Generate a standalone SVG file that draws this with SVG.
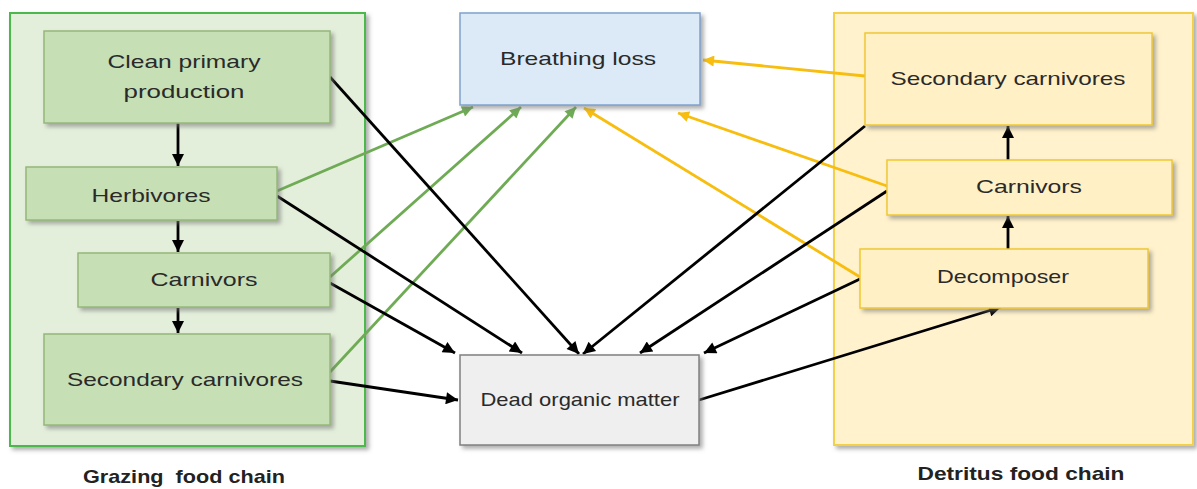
<svg xmlns="http://www.w3.org/2000/svg" width="1197" height="489" viewBox="0 0 1197 489">
<style>
.t{font-family:"Liberation Sans",Arial,sans-serif;font-size:19px;fill:#2a2a2a}
.lb{font-family:"Liberation Sans",Arial,sans-serif;font-size:19px;font-weight:bold;fill:#222}
.gn{fill:#c7dfb5;stroke:#95b87a;stroke-width:1.5}
.yn{fill:#fff0c6;stroke:#f0c832;stroke-width:1.5}
.k{stroke:#000;stroke-width:2.8;fill:none}
.g{stroke:#6fab55;stroke-width:2.8;fill:none}
.y{stroke:#f7bd0f;stroke-width:2.8;fill:none}
</style>
<defs>
<filter id="sh" x="-10%" y="-10%" width="130%" height="140%">
<feDropShadow dx="3" dy="3" stdDeviation="2" flood-color="#777" flood-opacity="0.6"/>
</filter>
<marker id="ak" viewBox="0 0 10 10" refX="10" refY="5" markerWidth="15" markerHeight="12" markerUnits="userSpaceOnUse" orient="auto"><path d="M0,0L10,5L0,10z" fill="#000"/></marker>
<marker id="ag" viewBox="0 0 10 10" refX="10" refY="5" markerWidth="14" markerHeight="11" markerUnits="userSpaceOnUse" orient="auto"><path d="M0,0L10,5L0,10z" fill="#6fab55"/></marker>
<marker id="ay" viewBox="0 0 10 10" refX="10" refY="5" markerWidth="14" markerHeight="11" markerUnits="userSpaceOnUse" orient="auto"><path d="M0,0L10,5L0,10z" fill="#f7bd0f"/></marker>
</defs>

<g id="grazing-container">
<rect x="10" y="13" width="355" height="433" fill="#e4efdb" stroke="#4cb84c" stroke-width="2" filter="url(#sh)"/>
<text class="lb" x="184" y="483" text-anchor="middle" textLength="202" lengthAdjust="spacingAndGlyphs" xml:space="preserve">Grazing  food chain</text>
</g>
<g id="detritus-container">
<rect x="834" y="13" width="359" height="432" fill="#fff2cc" stroke="#f2d04c" stroke-width="2" filter="url(#sh)"/>
<text class="lb" x="1021" y="480" text-anchor="middle" textLength="207" lengthAdjust="spacingAndGlyphs">Detritus food chain</text>
</g>

<g id="connectors">
<line class="k" x1="178" y1="123" x2="178" y2="166" marker-end="url(#ak)"/>
<line class="k" x1="178" y1="221" x2="178" y2="252" marker-end="url(#ak)"/>
<line class="k" x1="178" y1="308" x2="178" y2="333" marker-end="url(#ak)"/>
<line class="k" x1="1008" y1="160" x2="1008" y2="126" marker-end="url(#ak)"/>
<line class="k" x1="1008" y1="249" x2="1008" y2="216" marker-end="url(#ak)"/>
<line class="g" x1="277" y1="191" x2="473" y2="107" marker-end="url(#ag)"/>
<line class="g" x1="330" y1="277" x2="521" y2="107" marker-end="url(#ag)"/>
<line class="g" x1="330" y1="372" x2="576" y2="107" marker-end="url(#ag)"/>
<line class="y" x1="865" y1="76" x2="703" y2="60" marker-end="url(#ay)"/>
<line class="y" x1="887" y1="186" x2="678" y2="113" marker-end="url(#ay)"/>
<line class="y" x1="860" y1="277" x2="584" y2="108" marker-end="url(#ay)"/>
<line class="k" x1="330" y1="77" x2="579" y2="354" marker-end="url(#ak)"/>
<line class="k" x1="277" y1="196" x2="522" y2="353" marker-end="url(#ak)"/>
<line class="k" x1="330" y1="283" x2="455" y2="353" marker-end="url(#ak)"/>
<line class="k" x1="330" y1="381" x2="458" y2="400" marker-end="url(#ak)"/>
<line class="k" x1="865" y1="126" x2="583" y2="354" marker-end="url(#ak)"/>
<line class="k" x1="887" y1="191" x2="640" y2="353" marker-end="url(#ak)"/>
<line class="k" x1="860" y1="279" x2="704" y2="353" marker-end="url(#ak)"/>
<line class="k" x1="699" y1="400" x2="1001" y2="307" marker-end="url(#ak)"/>
</g>

<g id="clean-primary-production">
<rect class="gn" x="44" y="31" width="286" height="92" filter="url(#sh)"/>
<text class="t" x="184" y="68" text-anchor="middle" textLength="153" lengthAdjust="spacingAndGlyphs">Clean primary</text>
<text class="t" x="184" y="98" text-anchor="middle" textLength="121" lengthAdjust="spacingAndGlyphs">production</text>
</g>
<g id="herbivores">
<rect class="gn" x="26" y="167" width="251" height="53" filter="url(#sh)"/>
<text class="t" x="151" y="202" text-anchor="middle" textLength="119" lengthAdjust="spacingAndGlyphs">Herbivores</text>
</g>
<g id="carnivors-grazing">
<rect class="gn" x="78" y="253" width="252" height="54" filter="url(#sh)"/>
<text class="t" x="204" y="286" text-anchor="middle" textLength="107" lengthAdjust="spacingAndGlyphs">Carnivors</text>
</g>
<g id="secondary-carnivores-grazing">
<rect class="gn" x="44" y="334" width="286" height="91" filter="url(#sh)"/>
<text class="t" x="185" y="386" text-anchor="middle" textLength="236" lengthAdjust="spacingAndGlyphs">Secondary carnivores</text>
</g>

<g id="breathing-loss">
<rect x="460" y="13" width="240" height="92" fill="#dce9f7" stroke="#7ea2cc" stroke-width="1.5" filter="url(#sh)"/>
<text class="t" x="578" y="65" text-anchor="middle" textLength="156" lengthAdjust="spacingAndGlyphs">Breathing loss</text>
</g>
<g id="dead-organic-matter">
<rect x="460" y="355" width="239" height="90" fill="#efefef" stroke="#808080" stroke-width="1.5" filter="url(#sh)"/>
<text class="t" x="580" y="406" text-anchor="middle" textLength="199" lengthAdjust="spacingAndGlyphs">Dead organic matter</text>
</g>

<g id="secondary-carnivores-detritus">
<rect class="yn" x="865" y="33" width="287" height="92" filter="url(#sh)"/>
<text class="t" x="1008" y="85" text-anchor="middle" textLength="235" lengthAdjust="spacingAndGlyphs">Secondary carnivores</text>
</g>
<g id="carnivors-detritus">
<rect class="yn" x="887" y="160" width="285" height="55" filter="url(#sh)"/>
<text class="t" x="1029" y="193" text-anchor="middle" textLength="106" lengthAdjust="spacingAndGlyphs">Carnivors</text>
</g>
<g id="decomposer">
<rect class="yn" x="860" y="249" width="288" height="59" filter="url(#sh)"/>
<text class="t" x="1003" y="283" text-anchor="middle" textLength="132" lengthAdjust="spacingAndGlyphs">Decomposer</text>
</g>
</svg>
